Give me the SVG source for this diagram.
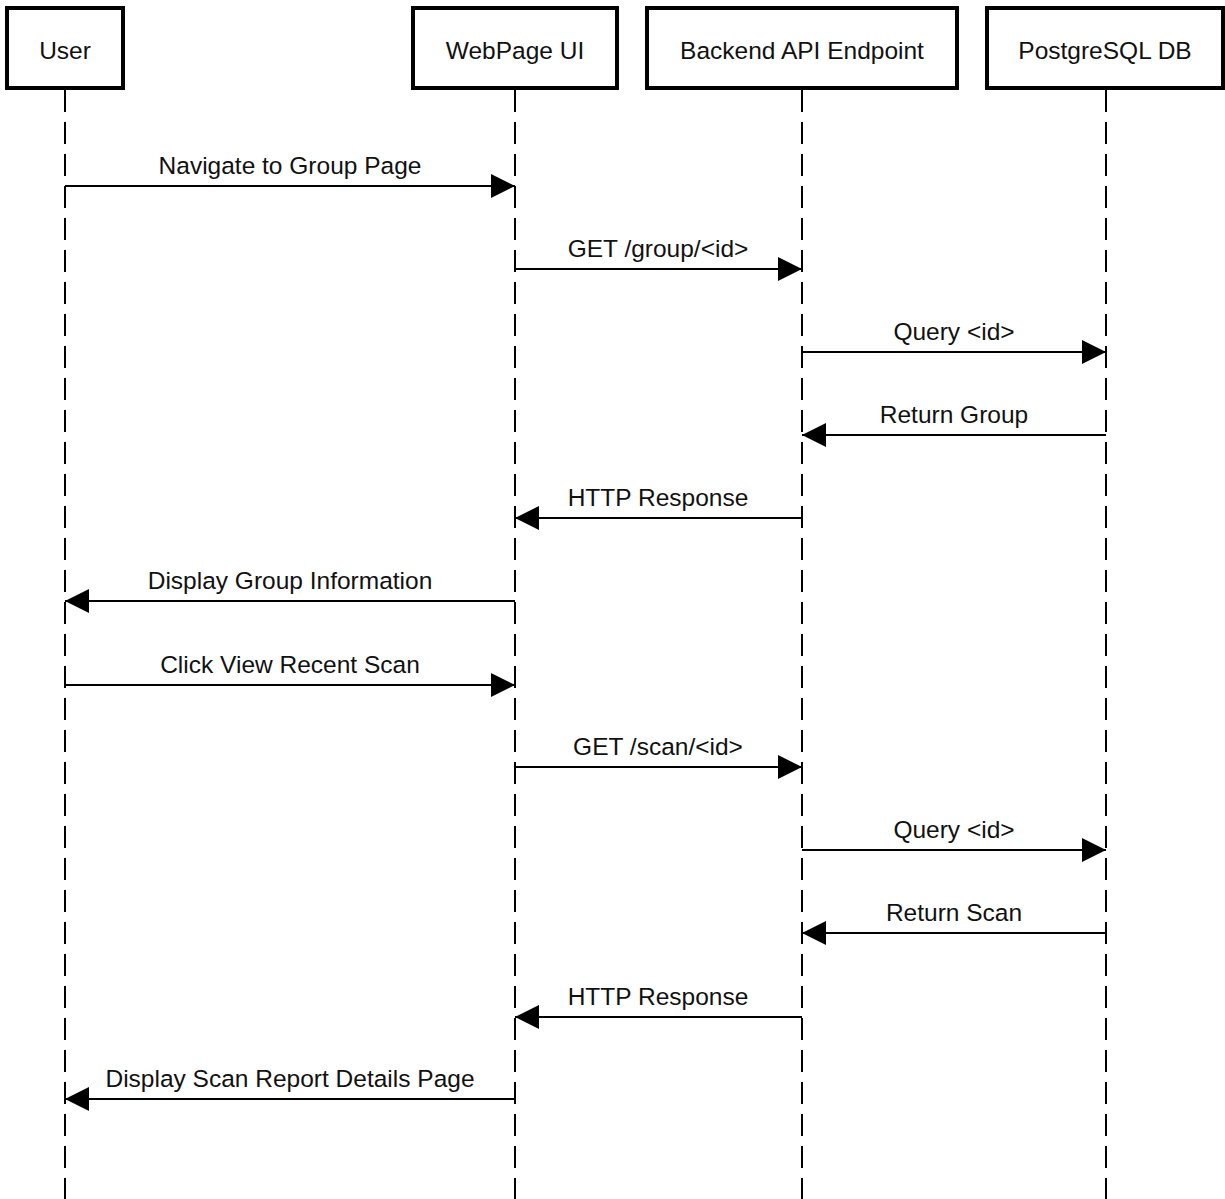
<svg xmlns="http://www.w3.org/2000/svg" width="1225" height="1199" viewBox="0 0 1225 1199">
  <style>
    .box { fill: #fff; stroke: #000; stroke-width: 4; }
    .life { stroke: #000; stroke-width: 2; stroke-dasharray: 22 10; fill: none; }
    .msg { stroke: #000; stroke-width: 2; fill: none; }
    text { font-family: "Liberation Sans", Arial, Helvetica, sans-serif; font-size: 24.5px; fill: #111; text-anchor: middle; }
  </style>
  <defs>
    <marker id="head" viewBox="0 0 24 24" refX="24" refY="12" markerWidth="24" markerHeight="24" markerUnits="userSpaceOnUse" orient="auto">
      <path d="M0,0 L24,12 L0,24 Z" fill="#000"/>
    </marker>
  </defs>

  <rect width="1225" height="1199" fill="#fff"/>

  <!-- lifelines -->
  <g id="lifelines">
    <line class="life" x1="65" y1="90" x2="65" y2="1199"/>
    <line class="life" x1="515" y1="90" x2="515" y2="1199"/>
    <line class="life" x1="802" y1="90" x2="802" y2="1199"/>
    <line class="life" x1="1106" y1="90" x2="1106" y2="1199"/>
  </g>

  <!-- participants -->
  <g id="user">
    <rect class="box" x="7" y="8" width="116" height="80"/>
    <text x="65" y="59">User</text>
  </g>
  <g id="webpage-ui">
    <rect class="box" x="413" y="8" width="204" height="80"/>
    <text x="515" y="59">WebPage UI</text>
  </g>
  <g id="backend-api">
    <rect class="box" x="647" y="8" width="310" height="80"/>
    <text x="802" y="59">Backend API Endpoint</text>
  </g>
  <g id="postgres-db">
    <rect class="box" x="987" y="8" width="236" height="80"/>
    <text x="1105" y="59">PostgreSQL DB</text>
  </g>

  <!-- messages -->
  <g id="connectors">
    <line class="msg" x1="65" y1="186" x2="515" y2="186" marker-end="url(#head)"/>
    <text x="290" y="174">Navigate to Group Page</text>

    <line class="msg" x1="515" y1="269" x2="802" y2="269" marker-end="url(#head)"/>
    <text x="658" y="257">GET /group/&lt;id&gt;</text>

    <line class="msg" x1="802" y1="352" x2="1106" y2="352" marker-end="url(#head)"/>
    <text x="954" y="340">Query &lt;id&gt;</text>

    <line class="msg" x1="1106" y1="435" x2="802" y2="435" marker-end="url(#head)"/>
    <text x="954" y="423">Return Group</text>

    <line class="msg" x1="802" y1="518" x2="515" y2="518" marker-end="url(#head)"/>
    <text x="658" y="506">HTTP Response</text>

    <line class="msg" x1="515" y1="601" x2="65" y2="601" marker-end="url(#head)"/>
    <text x="290" y="589">Display Group Information</text>

    <line class="msg" x1="65" y1="685" x2="515" y2="685" marker-end="url(#head)"/>
    <text x="290" y="673">Click View Recent Scan</text>

    <line class="msg" x1="515" y1="767" x2="802" y2="767" marker-end="url(#head)"/>
    <text x="658" y="755">GET /scan/&lt;id&gt;</text>

    <line class="msg" x1="802" y1="850" x2="1106" y2="850" marker-end="url(#head)"/>
    <text x="954" y="838">Query &lt;id&gt;</text>

    <line class="msg" x1="1106" y1="933" x2="802" y2="933" marker-end="url(#head)"/>
    <text x="954" y="921">Return Scan</text>

    <line class="msg" x1="802" y1="1017" x2="515" y2="1017" marker-end="url(#head)"/>
    <text x="658" y="1005">HTTP Response</text>

    <line class="msg" x1="515" y1="1099" x2="65" y2="1099" marker-end="url(#head)"/>
    <text x="290" y="1087">Display Scan Report Details Page</text>
  </g>
</svg>
